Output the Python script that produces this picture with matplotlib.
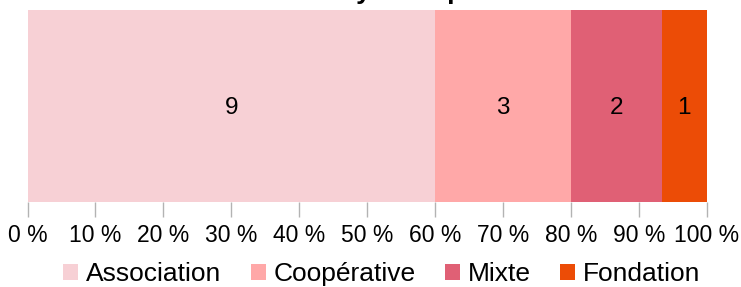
import matplotlib
matplotlib.use("Agg")
import matplotlib.pyplot as plt
from matplotlib.patches import Patch

plt.rcParams['font.family'] = ['Liberation Sans', 'DejaVu Sans']

title = "Analyse du porteur"
categories = ["Association", "Coopérative", "Mixte", "Fondation"]
counts = [9, 3, 2, 1]
colors = ["#F7D0D5", "#FFA8A8", "#E06075", "#EC4C06"]
tick_values = [0, 10, 20, 30, 40, 50, 60, 70, 80, 90, 100]
tick_labels = [f"{v} %" for v in tick_values]

total = sum(counts)
shares = [c / total * 100 for c in counts]

fig = plt.figure(figsize=(7.41, 2.87), dpi=100)
ax = fig.add_axes([27.5 / 741, 1 - 201.7 / 287, (707 - 27.5) / 741, (201.7 - 10) / 287])

left = 0
for cat, c, s, col in zip(categories, counts, shares, colors):
    ax.barh(0, s, left=left, height=1.0, color=col, edgecolor='none')
    ax.text(left + s / 2, -0.01, str(c), ha='center', va='center', fontsize=17.5, color='black')
    left += s

ax.set_xlim(0, 100)
ax.set_ylim(-0.5, 0.5)
ax.set_yticks([])
ax.set_xticks(tick_values)
ax.set_xticklabels(tick_labels, fontsize=16.5)
ax.tick_params(axis='x', length=11, width=1, color='#b3b3b3', pad=5)
for sp in ax.spines.values():
    sp.set_visible(False)

fig.text(299 / 741, 1 + 1.5 / 287, title, ha='left', va='baseline', fontsize=19, fontweight='bold')

handles = [Patch(facecolor=col, edgecolor='none') for col in colors]
fig.legend(handles, categories, loc='center', bbox_to_anchor=(0.515, 1 - 274 / 287), ncol=4,
           frameon=False, fontsize=19, handlelength=0.57, handleheight=0.57,
           handletextpad=0.3, columnspacing=1.1, borderpad=0, borderaxespad=0)

fig.savefig("out.png", dpi=100)
